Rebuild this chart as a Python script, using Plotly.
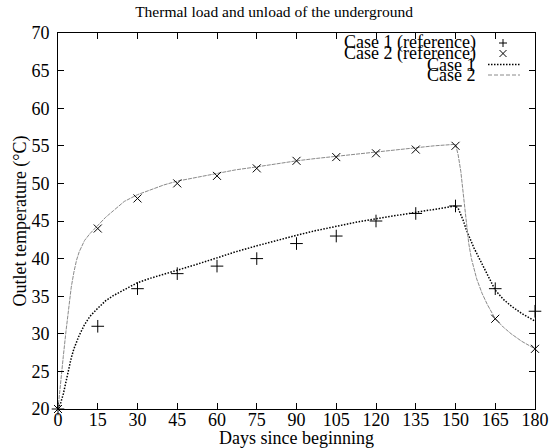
import plotly.graph_objects as go

# Reference points
ref_days = [0, 15, 30, 45, 60, 75, 90, 105, 120, 135, 150, 165, 180]
case1_ref = [20, 31, 36, 38, 39, 40, 42, 43, 45, 46, 47, 36, 33]
case2_ref = [20, 44, 48, 50, 51, 52, 53, 53.5, 54, 54.5, 55, 32, 28]

# Simulated curves
case1_days = [0, 1, 2, 3, 4, 5, 6, 7, 8, 10, 12, 15, 18, 21, 25, 30, 35, 40, 45, 52,
              60, 67, 75, 82, 90, 97, 105, 112, 120, 127, 135, 142, 150, 151, 152,
              153, 154, 155, 156, 157, 158, 160, 162, 165, 168, 171, 175, 178, 180]
case1_temp = [20, 20.8, 22.0, 23.6, 25.4, 26.8, 28.0, 29.0, 29.8, 31.2, 32.3, 33.4,
              34.4, 35.1, 35.9, 36.8, 37.4, 37.9, 38.4, 39.2, 40.1, 40.9, 41.7, 42.4,
              43.1, 43.7, 44.3, 44.8, 45.3, 45.7, 46.2, 46.6, 47.0, 46.7, 45.9, 45.0,
              43.9, 43.0, 42.2, 41.4, 40.7, 39.3, 37.9, 35.8, 34.6, 33.7, 32.7, 32.1,
              31.7]

case2_days = [0, 0.5, 1, 1.5, 2, 3, 4, 5, 6, 7, 8, 10, 12, 15, 18, 21, 25, 30, 35, 40,
              45, 52, 60, 67, 75, 82, 90, 97, 105, 112, 120, 127, 135, 142, 150, 151,
              152, 153, 154, 155, 156, 157, 158, 160, 162, 165, 168, 171, 175, 178, 180]
case2_temp = [20, 22.0, 23.8, 25.3, 27.0, 30.3, 33.5, 36.2, 38.2, 39.8, 40.9, 42.4,
              43.3, 44.4, 45.5, 46.4, 47.6, 48.5, 49.2, 49.8, 50.3, 50.8, 51.3, 51.8,
              52.2, 52.6, 53.0, 53.3, 53.6, 53.9, 54.2, 54.5, 54.7, 55.0, 55.2, 53.8,
              51.6, 48.6, 45.0, 42.0, 40.0, 38.5, 37.3, 35.4, 33.9, 32.0, 30.9, 30.0,
              29.0, 28.4, 28.0]

x_ticks = list(range(0, 181, 15))
y_ticks = list(range(20, 71, 5))

legend_labels = ["Case 1 (reference)", "Case 2 (reference)", "Case 1", "Case 2"]

FONT = "Liberation Serif"
W, H = 557, 448
L, R, T, B = 58, 22, 33, 39
PW, PH = W - L - R, H - T - B

fig = go.Figure()

fig.add_trace(go.Scatter(x=case1_days, y=case1_temp, mode="lines", name="Case 1",
                         line=dict(color="black", width=1.5, dash="1.5px,1.5px"),
                         showlegend=False))
fig.add_trace(go.Scatter(x=case2_days, y=case2_temp, mode="lines", name="Case 2",
                         line=dict(color="#8a8a8a", width=1, dash="4px,1px"),
                         showlegend=False))
fig.add_trace(go.Scatter(x=ref_days, y=case1_ref, mode="markers", name="Case 1 (reference)",
                         marker=dict(symbol="cross-thin-open", size=9, color="black",
                                     line=dict(color="black", width=1)),
                         cliponaxis=False, showlegend=False))
fig.add_trace(go.Scatter(x=ref_days, y=case2_ref, mode="markers", name="Case 2 (reference)",
                         marker=dict(symbol="x-thin-open", size=8, color="black",
                                     line=dict(color="black", width=1)),
                         cliponaxis=False, showlegend=False))


def py(px_y):
    return (H - B - px_y) / PH


def px(px_x):
    return (px_x - L) / PW


# legend (gnuplot style, tightly stacked)
rows_y = [43, 53.5, 64.5, 75]
for lab, yy in zip(legend_labels, rows_y):
    fig.add_annotation(text=lab, xref="paper", yref="paper", x=px(478), y=py(yy),
                       xanchor="right", yanchor="middle", showarrow=False,
                       font=dict(family=FONT, size=18, color="black"))

sx = px(503)
fig.add_shape(type="path", xref="paper", yref="paper", xsizemode="pixel", ysizemode="pixel",
              xanchor=sx, yanchor=py(rows_y[0]), path="M -4 0 L 4 0 M 0 -4 L 0 4",
              line=dict(color="black", width=1))
fig.add_shape(type="path", xref="paper", yref="paper", xsizemode="pixel", ysizemode="pixel",
              xanchor=sx, yanchor=py(rows_y[1]), path="M -3.5 -3.5 L 3.5 3.5 M -3.5 3.5 L 3.5 -3.5",
              line=dict(color="black", width=1))
fig.add_shape(type="line", xref="paper", yref="paper", x0=px(488), x1=px(520),
              y0=py(rows_y[2]), y1=py(rows_y[2]),
              line=dict(color="black", width=1.5, dash="1.5px,1.5px"))
fig.add_shape(type="line", xref="paper", yref="paper", x0=px(488), x1=px(520),
              y0=py(rows_y[3]), y1=py(rows_y[3]),
              line=dict(color="#8a8a8a", width=1, dash="4px,2px"))

axis_common = dict(showline=True, linecolor="black", linewidth=1, mirror="ticks",
                   ticks="inside", ticklen=6, tickcolor="black", tickwidth=1,
                   showgrid=False, zeroline=False, automargin=False,
                   tickfont=dict(family=FONT, size=18, color="black"))

fig.update_layout(
    width=W, height=H,
    margin=dict(l=L, r=R, t=T, b=B, autoexpand=False),
    paper_bgcolor="white", plot_bgcolor="white",
    showlegend=False,
    title=dict(text="Thermal load and unload of the underground", x=0.492, xanchor="center",
               y=1 - 12 / H, yanchor="middle",
               font=dict(family=FONT, size=15.5, color="black")),
    xaxis=dict(range=[0, 180], tickvals=x_ticks, ticktext=[str(v) for v in x_ticks],
               ticklabelstandoff=-6,
               title=dict(text="Days since beginning", standoff=0,
                          font=dict(family=FONT, size=18, color="black")),
               **axis_common),
    yaxis=dict(range=[20, 70], tickvals=y_ticks, ticktext=[str(v) for v in y_ticks],
               ticklabelstandoff=4,
               title=dict(text="Outlet temperature (°C)", standoff=0,
                          font=dict(family=FONT, size=18, color="black")),
               **axis_common),
)

fig.write_html("out.html", config={"displayModeBar": False},
               post_script="document.body.style.margin='0';")
